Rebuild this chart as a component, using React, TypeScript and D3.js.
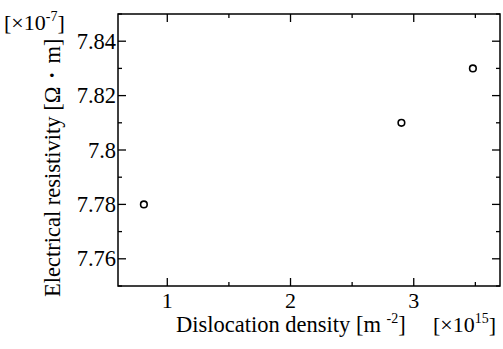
import React from "react";
import * as d3 from "d3";

const densities = [0.81, 2.9, 3.48];
const resistivities = [7.78, 7.81, 7.83];
const xMajorTicks = [1, 2, 3];
const xMinorTicks = [1.5, 2.5, 3.5];
const yMajorTicks = [7.76, 7.78, 7.8, 7.82, 7.84];
const yMinorTicks = [7.75, 7.77, 7.79, 7.81, 7.83, 7.85];

const W = 503, H = 349;
const L = 118, R = 500, T = 14, B = 286;
const FONT = "'Liberation Serif', 'Times New Roman', serif";

export default function App() {
  const x = d3.scaleLinear().domain([0.6, 3.7]).range([L, R]);
  const y = d3.scaleLinear().domain([7.75, 7.85]).range([B, T]);
  const fmt = (v: number) => String(+v.toFixed(2));
  return (
    <svg width={W} height={H} style={{ position: "absolute", left: 0, top: 0, background: "#fff" }}>
      <rect x={L} y={T} width={R - L} height={B - T} fill="none" stroke="#000" strokeWidth={1.5} />
      {xMajorTicks.map((t) => (
        <g key={"xm" + t}>
          <line x1={x(t)} x2={x(t)} y1={B} y2={B - 8} stroke="#000" strokeWidth={1.3} />
          <line x1={x(t)} x2={x(t)} y1={T} y2={T + 8} stroke="#000" strokeWidth={1.3} />
          <text x={x(t)} y={B + 22} textAnchor="middle" fontFamily={FONT} fontSize={22}>{t}</text>
        </g>
      ))}
      {xMinorTicks.map((t) => (
        <g key={"xn" + t}>
          <line x1={x(t)} x2={x(t)} y1={B} y2={B - 4} stroke="#000" strokeWidth={1.3} />
          <line x1={x(t)} x2={x(t)} y1={T} y2={T + 4} stroke="#000" strokeWidth={1.3} />
        </g>
      ))}
      {yMajorTicks.map((t) => (
        <g key={"ym" + t}>
          <line x1={L} x2={L + 8} y1={y(t)} y2={y(t)} stroke="#000" strokeWidth={1.3} />
          <line x1={R} x2={R - 8} y1={y(t)} y2={y(t)} stroke="#000" strokeWidth={1.3} />
          <text x={L - 2} y={y(t) + 7.5} textAnchor="end" fontFamily={FONT} fontSize={22.5}>{fmt(t)}</text>
        </g>
      ))}
      {yMinorTicks.map((t) => (
        <g key={"yn" + t}>
          <line x1={L} x2={L + 4} y1={y(t)} y2={y(t)} stroke="#000" strokeWidth={1.3} />
          <line x1={R} x2={R - 4} y1={y(t)} y2={y(t)} stroke="#000" strokeWidth={1.3} />
        </g>
      ))}
      {densities.map((d, i) => (
        <circle key={i} cx={x(d)} cy={y(resistivities[i])} r={3.3} fill="none" stroke="#000" strokeWidth={1.6} />
      ))}
      <text x={176} y={332} fontFamily={FONT} fontSize={22.5}>
        Dislocation density [m <tspan dy={-9} fontSize={14}>-2</tspan><tspan dy={9}>]</tspan>
      </text>
      <text x={433} y={332} fontFamily={FONT} fontSize={22}>
        [×10<tspan dy={-9} fontSize={14}>15</tspan><tspan dy={9}>]</tspan>
      </text>
      <text x={4} y={30} fontFamily={FONT} fontSize={22}>
        [×10<tspan dy={-9} fontSize={14}>-7</tspan><tspan dy={9}>]</tspan>
      </text>
      <text transform="translate(60,297) rotate(-90)" fontFamily={FONT} fontSize={22.5}>
        Electrical resistivity [Ω・m]
      </text>
    </svg>
  );
}
